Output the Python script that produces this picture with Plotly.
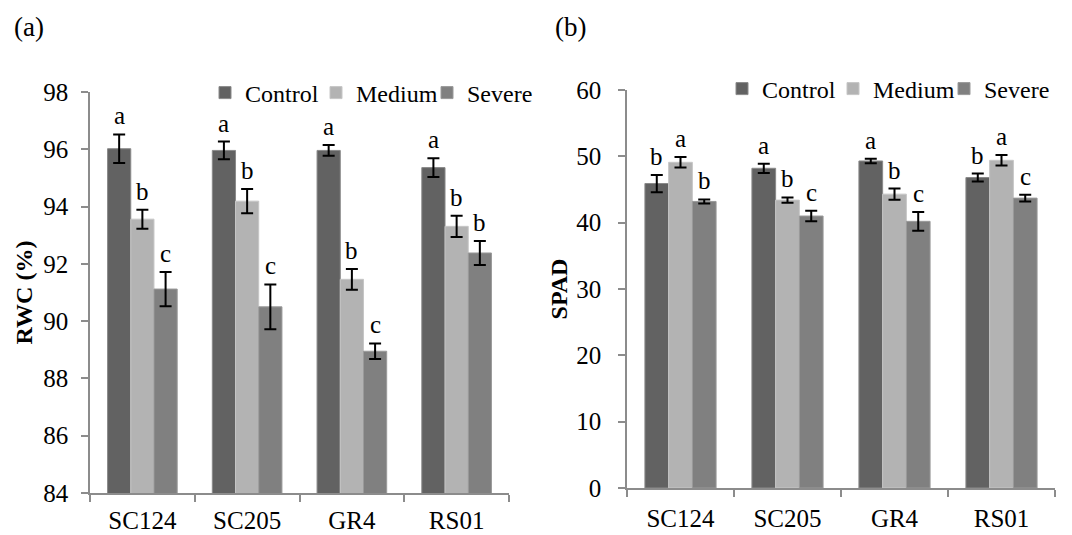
import plotly.graph_objects as go

categories = ["SC124", "SC205", "GR4", "RS01"]
series = ["Control", "Medium", "Severe"]

rwc_control = [96.02, 95.96, 95.96, 95.36]
rwc_medium = [93.56, 94.19, 91.46, 93.31]
rwc_severe = [91.12, 90.50, 88.95, 92.38]
rwc_control_err = [0.50, 0.31, 0.19, 0.33]
rwc_medium_err = [0.33, 0.42, 0.36, 0.37]
rwc_severe_err = [0.60, 0.78, 0.27, 0.42]
rwc_control_lbl = ["a", "a", "a", "a"]
rwc_medium_lbl = ["b", "b", "b", "b"]
rwc_severe_lbl = ["c", "c", "c", "b"]

spad_control = [45.9, 48.2, 49.3, 46.8]
spad_medium = [49.1, 43.4, 44.3, 49.4]
spad_severe = [43.2, 41.0, 40.2, 43.7]
spad_control_err = [1.3, 0.7, 0.35, 0.6]
spad_medium_err = [0.8, 0.4, 0.85, 0.8]
spad_severe_err = [0.3, 0.8, 1.4, 0.5]
spad_control_lbl = ["b", "a", "a", "b"]
spad_medium_lbl = ["a", "b", "b", "a"]
spad_severe_lbl = ["b", "c", "c", "c"]

colors = ["#626262", "#b3b3b3", "#808080"]
edge = ["#8a8a8a", "#c6c6c6", "#9a9a9a"]
FONT = "Liberation Serif"
BARGAP = 0.335

fig = go.Figure()

panels = [
    dict(xa="x", ya="y", legend="legend",
         vals=[rwc_control, rwc_medium, rwc_severe],
         errs=[rwc_control_err, rwc_medium_err, rwc_severe_err],
         lbls=[rwc_control_lbl, rwc_medium_lbl, rwc_severe_lbl]),
    dict(xa="x2", ya="y2", legend="legend2",
         vals=[spad_control, spad_medium, spad_severe],
         errs=[spad_control_err, spad_medium_err, spad_severe_err],
         lbls=[spad_control_lbl, spad_medium_lbl, spad_severe_lbl]),
]

bw = (1 - BARGAP) / 3
annotations = []
for p in panels:
    for i, name in enumerate(series):
        fig.add_trace(go.Bar(
            x=categories, y=p["vals"][i], name=name,
            xaxis=p["xa"], yaxis=p["ya"], legend=p["legend"],
            marker=dict(color=colors[i], line=dict(color=edge[i], width=1)),
            error_y=dict(type="data", array=p["errs"][i], color="black",
                         thickness=2, width=6),
        ))
        for j in range(len(categories)):
            annotations.append(dict(
                x=j + (i - 1) * bw, y=p["vals"][i][j] + p["errs"][i][j],
                xref=p["xa"], yref=p["ya"], text=p["lbls"][i][j],
                showarrow=False, yanchor="bottom", yshift=3,
                font=dict(family=FONT, size=25, color="black"),
            ))

annotations.append(dict(x=12 / 1072, y=1 - 27 / 535, xref="paper", yref="paper",
                        text="(a)", showarrow=False, xanchor="left", yanchor="middle",
                        font=dict(family=FONT, size=27, color="black")))
annotations.append(dict(x=553 / 1072, y=1 - 27 / 535, xref="paper", yref="paper",
                        text="(b)", showarrow=False, xanchor="left", yanchor="middle",
                        font=dict(family=FONT, size=27, color="black")))

axis_common = dict(showline=True, linecolor="#8c8c8c", linewidth=1.5,
                   ticks="outside", tickcolor="#8c8c8c", ticklen=7, tickwidth=1.5,
                   showgrid=False, zeroline=False, automargin=False,
                   tickfont=dict(family=FONT, size=25, color="black"))

legend_common = dict(orientation="h", xanchor="left", yanchor="middle",
                     font=dict(family=FONT, size=24, color="black"),
                     bgcolor="rgba(0,0,0,0)", itemwidth=30, tracegroupgap=0,
                     entrywidth=66)

fig.update_layout(
    width=1072, height=535,
    margin=dict(l=0, r=0, t=0, b=0, autoexpand=False),
    paper_bgcolor="white", plot_bgcolor="white",
    barmode="group", bargap=BARGAP, bargroupgap=0,
    showlegend=True,
    annotations=annotations,
    xaxis=dict(domain=[90 / 1072, 509 / 1072], anchor="y", range=[-0.5, 3.5],
               tickson="boundaries", ticklabelstandoff=4, **axis_common),
    yaxis=dict(domain=[1 - 493 / 535, 1 - 92 / 535], anchor="x", range=[84, 98],
               dtick=2, ticklabelstandoff=8,
               title=dict(text="<b>RWC (%)</b>", standoff=4,
                          font=dict(family=FONT, size=24, color="black")),
               **axis_common),
    xaxis2=dict(domain=[627 / 1072, 1055 / 1072], anchor="y2", range=[-0.5, 3.5],
                tickson="boundaries", ticklabelstandoff=7, **axis_common),
    yaxis2=dict(domain=[1 - 488 / 535, 1 - 90 / 535], anchor="x2", range=[0, 60],
                dtick=10, ticklabelstandoff=12,
                title=dict(text="<b>SPAD</b>", standoff=2,
                           font=dict(family=FONT, size=24, color="black")),
                **axis_common),
    legend=dict(x=205 / 1072, y=1 - 93 / 535, **legend_common),
    legend2=dict(x=722 / 1072, y=1 - 89 / 535, **legend_common),
)

fig.write_html("out.html", config={"displayModeBar": False},
               post_script="document.body.style.margin='0';")
